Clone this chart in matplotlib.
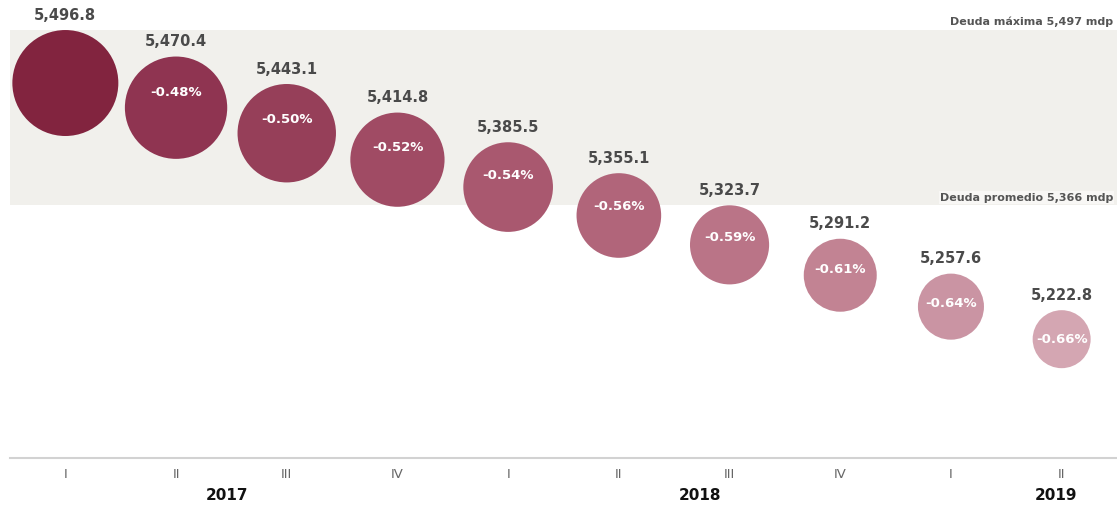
import matplotlib.pyplot as plt
import numpy as np
from matplotlib.transforms import blended_transform_factory

# datos: deuda por trimestre (mdp)
trimestres = ['I', 'II', 'III', 'IV', 'I', 'II', 'III', 'IV', 'I', 'II']
deuda = [5496.8, 5470.4, 5443.1, 5414.8, 5385.5, 5355.1, 5323.7, 5291.2, 5257.6, 5222.8]
variacion = [None, '-0.48%', '-0.50%', '-0.52%', '-0.54%', '-0.56%', '-0.59%', '-0.61%', '-0.64%', '-0.66%']
anios = ['2017', '2018', '2019']
anio_pos = [1.46, 5.73, 8.95]
deuda_maxima = 5497
deuda_promedio = 5366

colores = ['#82243F', '#8F3451', '#963F59', '#A04B64', '#A9586F',
           '#B1657A', '#BA7487', '#C28393', '#CA94A3', '#D4A6B2']

plt.rcParams['font.family'] = ['DejaVu Sans']
fig = plt.figure(figsize=(11.17, 5.08), dpi=100)
ax = fig.add_axes([10/1117, 50/508, 1107/1117, 458/508])
ax.set_xlim(-0.5, 9.5)
ax.set_ylim(5095.7, 5585.6)

x = np.arange(len(deuda))
d = np.array(deuda)

# banda entre deuda promedio y el techo
ax.axhspan(deuda_promedio, 5553.5, color='#F1F0EC', zorder=0, lw=0)

# tamaño del circulo: area lineal con el valor
r_px = np.sqrt(7.18 * (d - 5105.7))
sizes = (2 * r_px * 0.72) ** 2
ax.scatter(x, d, s=sizes, c=colores, edgecolors='none', zorder=3)

for i in range(len(deuda)):
    r_pt = r_px[i] * 0.72
    ax.annotate(f'{deuda[i]:,.1f}', (x[i], d[i]), xytext=(0, r_pt + 15*0.72),
                textcoords='offset points', ha='center', va='center',
                fontsize=10.5, fontweight='bold', color='#4a4a4a', zorder=4)
    if variacion[i]:
        off = 0.7 * (r_px[i] - 29) * 0.72
        ax.annotate(variacion[i], (x[i], d[i]), xytext=(0, off),
                    textcoords='offset points', ha='center', va='center',
                    fontsize=9.5, fontweight='bold', color='white', zorder=5)

ax.annotate(f'Deuda máxima {deuda_maxima:,} mdp', (0.9964, 5553.5),
            xycoords=('axes fraction', 'data'), xytext=(0, 2), textcoords='offset points',
            ha='right', va='bottom', fontsize=8, fontweight='bold', color='#555555')
ax.annotate(f'Deuda promedio {deuda_promedio:,} mdp', (0.9964, deuda_promedio),
            xycoords=('axes fraction', 'data'), xytext=(0, 2), textcoords='offset points',
            ha='right', va='bottom', fontsize=8, fontweight='bold', color='#555555',
            bbox=dict(boxstyle='square,pad=0.1', fc='#F8F7F5', ec='none'))

for s in ['top', 'right', 'left']:
    ax.spines[s].set_visible(False)
ax.spines['bottom'].set_color('#d2d2d2')
ax.spines['bottom'].set_linewidth(1.5)
ax.set_yticks([])
ax.set_xticks(x)
ax.set_xticklabels(trimestres, fontsize=9.5, color='#666666')
ax.tick_params(axis='x', length=0, pad=7)

trans = blended_transform_factory(ax.transData, ax.transAxes)
for a, p in zip(anios, anio_pos):
    ax.text(p, -37/458, a, transform=trans, ha='center', va='center',
            fontsize=11, fontweight='bold', color='#111111')

plt.savefig('out.png', dpi=100)
